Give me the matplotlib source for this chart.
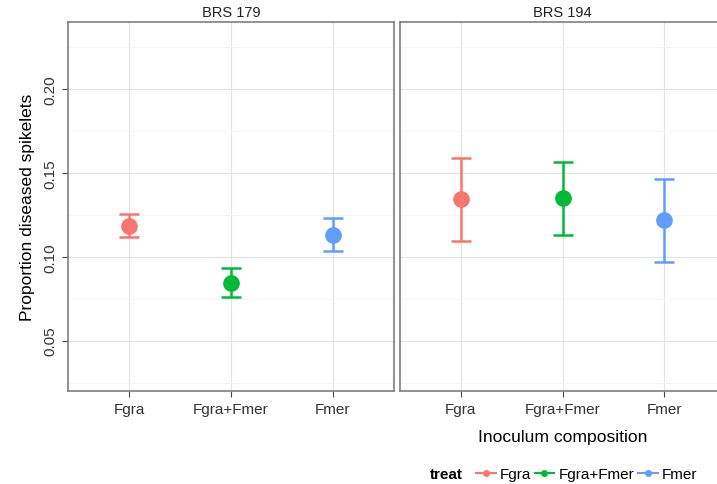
import matplotlib
matplotlib.use("Agg")
import numpy as np
from matplotlib import pyplot as plt
from matplotlib.lines import Line2D

plt.rcParams['font.family'] = ['Liberation Sans', 'DejaVu Sans']

# data
treats = ["Fgra", "Fgra+Fmer", "Fmer"]
colors = ["#F8766D", "#00BA38", "#619CFF"]
panels = ["BRS 179", "BRS 194"]
means = {"BRS 179": [0.1185, 0.0845, 0.1131],
         "BRS 194": [0.1345, 0.1350, 0.1220]}
lower = {"BRS 179": [0.1119, 0.0762, 0.1036],
         "BRS 194": [0.1095, 0.1130, 0.0970]}
upper = {"BRS 179": [0.1256, 0.0935, 0.1232],
         "BRS 194": [0.1590, 0.1565, 0.1464]}
yticks = [0.05, 0.10, 0.15, 0.20]

W, H = 717, 485
fig = plt.figure(figsize=(W / 100, H / 100), dpi=100)

# panel boxes in pixels (left, top, right, bottom)
boxes = [(68, 23, 394, 392), (400, 23, 725, 392)]
axes = []
for (l, t, r, b) in boxes:
    ax = fig.add_axes([l / W, 1 - b / H, (r - l) / W, (b - t) / H])
    axes.append(ax)

for k, (ax, name) in enumerate(zip(axes, panels)):
    x = np.arange(1, len(treats) + 1)
    ax.set_xlim(0.4, 3.6)
    ax.set_ylim(0.02, 0.24)
    ax.set_yticks(yticks)
    ax.set_yticks([0.025, 0.075, 0.125, 0.175, 0.225], minor=True)
    ax.set_xticks(x)
    ax.set_xticklabels(treats, fontsize=11, color="#333333")
    ax.grid(True, which="major", color="#e3e3e3", lw=0.8)
    ax.grid(True, which="minor", axis="y", color="#f4f4f4", lw=0.6)
    ax.set_axisbelow(True)
    for s in ax.spines.values():
        s.set_color("#7f7f7f")
        s.set_linewidth(1.2)
    ax.tick_params(axis="x", length=4, color="#444444", pad=4)
    ax.tick_params(axis="y", which="minor", length=0)
    if k == 0:
        ax.set_yticklabels(["%.2f" % v for v in yticks], rotation=90,
                           va="center", fontsize=11, color="#333333")
        ax.tick_params(axis="y", length=4, color="#444444", pad=4)
        ax.set_ylabel("Proportion diseased spikelets", fontsize=12.5, labelpad=6)
    else:
        ax.tick_params(axis="y", length=0, labelleft=False)
    for i, tr in enumerate(treats):
        m = means[name][i]
        err = [[m - lower[name][i]], [upper[name][i] - m]]
        ax.errorbar(x[i], m, yerr=err, fmt="o", color=colors[i], ms=11,
                    elinewidth=1.8, capsize=7.5, capthick=1.8)
    ax.set_title(name, fontsize=10.5, color="#222222", pad=4)

fig.text(563 / W, 1 - 438 / H, "Inoculum composition", ha="center",
         va="center", fontsize=12.6)

# legend
fig.text(430 / W, 1 - 475 / H, "treat", ha="left", va="center",
         fontsize=11, fontweight="bold")
handles = [Line2D([], [], color=c, marker="o", ms=4, lw=1.5) for c in colors]
fig.legend(handles, treats, ncol=3, loc="center left",
           bbox_to_anchor=(468 / W, 1 - 475 / H), frameon=False,
           fontsize=11, handlelength=1.3, handletextpad=0.3,
           columnspacing=0.2, borderpad=0)

fig.savefig("out.png", dpi=100)
